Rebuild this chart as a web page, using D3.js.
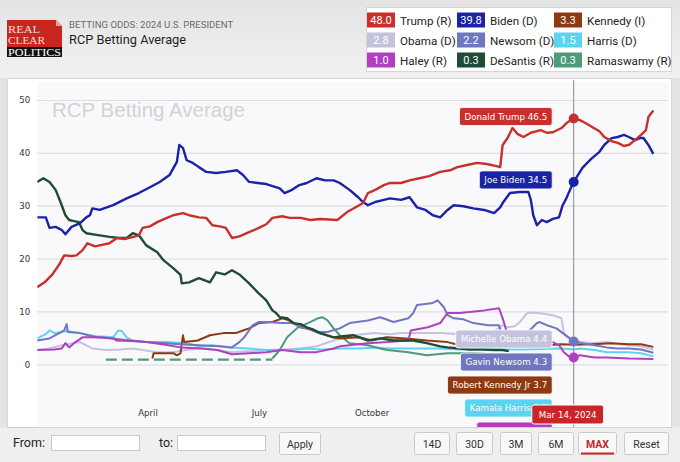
<!DOCTYPE html>
<html><head><meta charset="utf-8">
<script src="https://cdn.jsdelivr.net/npm/d3@7/dist/d3.min.js"></script>
<style>
html,body{margin:0;padding:0;width:680px;height:462px;overflow:hidden;background:#e6e6e6;}
svg{display:block;}
</style></head><body>
<svg id="c" width="680" height="462"></svg>
<script>
// ---------- DATA ----------
const trumpData = [["2023-01-01",14.6],["2023-01-07",15.5],["2023-01-13",16.9],["2023-01-19",18.9],["2023-01-23",20.6],["2023-01-29",20.5],["2023-02-02",20.6],["2023-02-07",21.6],["2023-02-11",22.9],["2023-02-17",22.3],["2023-02-21",22.5],["2023-03-01",22.9],["2023-03-07",23.9],["2023-03-13",23.7],["2023-03-19",24.0],["2023-03-25",24.4],["2023-03-28",25.8],["2023-04-03",26.1],["2023-04-09",26.9],["2023-04-15",27.5],["2023-04-22",28.2],["2023-04-30",28.6],["2023-05-05",28.2],["2023-05-13",27.8],["2023-05-19",27.7],["2023-05-24",26.3],["2023-05-30",26.1],["2023-06-04",25.8],["2023-06-09",23.9],["2023-06-15",24.2],["2023-06-23",25.0],["2023-07-01",25.8],["2023-07-07",26.5],["2023-07-12",27.7],["2023-07-20",28.0],["2023-07-26",27.7],["2023-08-04",27.7],["2023-08-12",27.3],["2023-08-20",27.5],["2023-09-03",27.3],["2023-09-11",28.8],["2023-09-18",29.7],["2023-09-24",30.5],["2023-09-28",32.4],["2023-10-04",33.0],["2023-10-11",33.9],["2023-10-16",34.3],["2023-10-25",34.3],["2023-11-01",34.8],["2023-11-09",35.2],["2023-11-17",35.6],["2023-11-26",36.4],["2023-12-04",36.7],["2023-12-10",37.3],["2023-12-18",37.7],["2023-12-26",38.1],["2024-01-03",37.9],["2024-01-11",37.5],["2024-01-14",37.3],["2024-01-16",41.5],["2024-01-20",42.8],["2024-01-24",44.7],["2024-01-28",43.6],["2024-02-02",43.0],["2024-02-08",43.8],["2024-02-16",44.3],["2024-02-21",43.8],["2024-02-26",43.9],["2024-03-04",44.7],["2024-03-09",45.8],["2024-03-14",46.5],["2024-03-19",46.2],["2024-03-24",45.6],["2024-03-29",44.9],["2024-04-04",44.1],["2024-04-08",43.0],["2024-04-14",42.2],["2024-04-19",41.9],["2024-04-24",41.3],["2024-04-28",41.5],["2024-05-03",42.4],["2024-05-08",43.4],["2024-05-12",44.3],["2024-05-14",46.8],["2024-05-18",48.0]];
const bidenData = [["2023-01-01",27.8],["2023-01-08",27.8],["2023-01-11",25.8],["2023-01-16",26.0],["2023-01-21",25.4],["2023-01-24",24.6],["2023-01-29",26.0],["2023-02-05",26.7],["2023-02-10",27.8],["2023-02-13",28.2],["2023-02-15",29.5],["2023-02-21",29.2],["2023-03-04",30.1],["2023-03-15",31.4],["2023-03-25",32.4],["2023-04-03",33.5],["2023-04-11",34.5],["2023-04-19",35.8],["2023-04-25",38.3],["2023-04-27",41.5],["2023-04-30",40.9],["2023-05-03",38.6],["2023-05-08",38.1],["2023-05-13",37.3],["2023-05-19",36.4],["2023-05-27",36.2],["2023-06-04",36.4],["2023-06-13",36.7],["2023-06-18",35.8],["2023-06-23",34.5],["2023-06-30",34.3],["2023-07-07",34.1],["2023-07-18",33.3],["2023-07-22",32.4],["2023-07-28",33.0],["2023-08-03",33.9],["2023-08-09",34.3],["2023-08-17",35.2],["2023-08-24",34.8],["2023-08-31",34.8],["2023-09-05",34.3],["2023-09-13",33.0],["2023-09-20",31.6],["2023-09-24",30.7],["2023-09-28",30.1],["2023-10-04",30.7],["2023-10-11",31.1],["2023-10-16",31.4],["2023-10-25",31.1],["2023-11-01",31.6],["2023-11-07",29.7],["2023-11-14",29.2],["2023-11-20",28.2],["2023-11-26",27.8],["2023-12-02",29.2],["2023-12-07",30.1],["2023-12-15",29.9],["2023-12-23",29.5],["2024-01-01",29.2],["2024-01-09",28.6],["2024-01-14",29.7],["2024-01-16",30.5],["2024-01-22",32.4],["2024-01-30",32.6],["2024-02-06",32.6],["2024-02-08",31.1],["2024-02-10",28.2],["2024-02-13",26.3],["2024-02-17",27.3],["2024-02-21",26.9],["2024-02-26",27.5],["2024-03-02",27.8],["2024-03-05",30.1],["2024-03-08",31.4],["2024-03-11",33.0],["2024-03-14",34.5],["2024-03-21",37.1],["2024-03-25",38.1],["2024-03-29",39.0],["2024-04-04",40.2],["2024-04-08",41.5],["2024-04-14",42.8],["2024-04-19",43.0],["2024-04-24",43.4],["2024-04-28",43.0],["2024-05-03",42.4],["2024-05-07",42.8],["2024-05-10",42.8],["2024-05-14",41.5],["2024-05-18",39.8]];
const desantisData = [["2023-01-01",34.5],["2023-01-06",35.2],["2023-01-11",34.5],["2023-01-16",33.0],["2023-01-20",30.7],["2023-01-24",28.2],["2023-01-27",27.3],["2023-01-31",27.1],["2023-02-04",26.9],["2023-02-07",25.4],["2023-02-10",24.8],["2023-02-21",24.4],["2023-03-01",24.1],["2023-03-09",23.9],["2023-03-15",23.9],["2023-03-20",24.8],["2023-03-25",24.4],["2023-03-31",22.5],["2023-04-09",21.2],["2023-04-14",19.7],["2023-04-22",18.2],["2023-04-28",16.9],["2023-04-29",15.3],["2023-05-05",15.5],["2023-05-13",16.3],["2023-05-22",15.5],["2023-05-27",17.4],["2023-06-03",17.0],["2023-06-09",17.8],["2023-06-15",17.0],["2023-06-23",15.3],["2023-06-30",13.6],["2023-07-07",12.1],["2023-07-12",10.2],["2023-07-15",9.7],["2023-07-18",8.9],["2023-07-24",8.7],["2023-07-29",7.8],["2023-08-04",7.6],["2023-08-09",7.0],["2023-08-14",6.6],["2023-08-20",5.9],["2023-08-31",5.1],["2023-09-08",5.3],["2023-09-16",5.5],["2023-09-28",4.5],["2023-10-08",4.9],["2023-10-19",4.5],["2023-11-04",4.5],["2023-11-15",4.0],["2023-11-26",3.4],["2023-12-02",3.2],["2023-12-12",3.0],["2023-12-20",2.8],["2024-01-01",2.8],["2024-01-10",2.7],["2024-01-16",2.7],["2024-01-21",2.5]];
const ramaswamyEarly = [["2023-02-26",0.9],["2023-07-12",0.9]];
const ramaswamyData = [["2023-07-12",1.1],["2023-07-18",2.7],["2023-07-24",5.1],["2023-08-02",7.0],["2023-08-10",7.8],["2023-08-18",8.7],["2023-08-22",8.9],["2023-08-26",8.3],["2023-08-31",6.8],["2023-09-05",5.5],["2023-09-13",4.0],["2023-09-28",3.6],["2023-10-08",3.0],["2023-10-14",2.7],["2023-10-31",2.3],["2023-11-15",1.7],["2023-12-02",2.1],["2023-12-12",2.1],["2023-12-25",2.1],["2024-01-06",1.9],["2024-01-14",1.7]];
const kennedyData = [["2023-04-05",1.1],["2023-04-06",2.1],["2023-04-14",2.1],["2023-04-22",2.1],["2023-04-25",1.7],["2023-04-28",2.1],["2023-04-30",5.5],["2023-05-01",4.2],["2023-05-12",4.5],["2023-05-22",5.5],["2023-06-02",5.9],["2023-06-12",5.9],["2023-06-18",6.4],["2023-06-23",6.8],["2023-07-01",7.8],["2023-07-12",8.0],["2023-07-20",8.7],["2023-07-26",8.3],["2023-08-04",7.0],["2023-08-13",6.6],["2023-08-17",6.1],["2023-08-31",5.1],["2023-09-05",4.9],["2023-09-21",5.1],["2023-10-01",4.5],["2023-10-13",5.1],["2023-10-29",4.9],["2023-11-15",4.5],["2023-12-02",4.2],["2023-12-12",3.6],["2023-12-25",3.8],["2024-01-10",3.8],["2024-02-01",3.8],["2024-02-21",3.6],["2024-03-04",3.8],["2024-03-14",3.7],["2024-03-29",3.8],["2024-04-14",4.0],["2024-04-28",3.8],["2024-05-08",3.8],["2024-05-18",3.3]];
const newsomData = [["2023-01-01",4.5],["2023-01-11",4.9],["2023-01-19",5.9],["2023-01-23",6.4],["2023-01-25",7.6],["2023-01-26",6.1],["2023-02-05",5.9],["2023-02-18",5.1],["2023-03-04",4.9],["2023-03-18",4.5],["2023-03-31",4.2],["2023-04-15",4.0],["2023-04-28",3.8],["2023-05-13",3.6],["2023-05-30",3.4],["2023-06-09",3.2],["2023-06-15",4.2],["2023-06-19",5.1],["2023-06-26",7.4],["2023-07-01",8.0],["2023-07-07",8.0],["2023-07-20",7.8],["2023-07-29",7.8],["2023-08-04",7.0],["2023-08-09",6.8],["2023-08-17",6.1],["2023-08-26",6.1],["2023-09-05",6.8],["2023-09-13",7.8],["2023-09-28",8.3],["2023-10-08",8.9],["2023-10-19",8.0],["2023-10-31",8.7],["2023-11-04",9.7],["2023-11-07",11.2],["2023-11-14",11.4],["2023-11-20",11.6],["2023-11-24",12.1],["2023-11-29",10.8],["2023-12-02",9.3],["2023-12-07",8.7],["2023-12-15",8.5],["2023-12-23",7.8],["2024-01-04",7.4],["2024-01-13",7.4],["2024-01-16",5.1],["2024-01-22",4.5],["2024-01-30",4.2],["2024-02-07",6.4],["2024-02-13",7.8],["2024-02-15",8.0],["2024-02-21",7.4],["2024-02-29",6.8],["2024-03-05",5.9],["2024-03-11",4.9],["2024-03-14",4.3],["2024-03-21",4.0],["2024-03-31",3.6],["2024-04-10",3.2],["2024-04-19",3.0],["2024-04-28",3.0],["2024-05-08",2.8],["2024-05-18",2.2]];
const obamaData = [["2023-01-01",2.7],["2023-01-11",3.0],["2023-01-21",3.6],["2023-02-05",4.2],["2023-02-10",3.6],["2023-02-15",3.0],["2023-02-26",2.7],["2023-03-09",2.8],["2023-03-20",3.0],["2023-04-09",2.3],["2023-04-22",2.3],["2023-05-03",2.7],["2023-05-13",3.0],["2023-05-27",2.7],["2023-06-09",2.3],["2023-06-23",2.5],["2023-07-07",2.7],["2023-07-20",2.8],["2023-08-04",3.0],["2023-08-17",3.4],["2023-08-31",4.5],["2023-09-08",5.1],["2023-09-16",5.5],["2023-10-03",5.9],["2023-10-16",5.7],["2023-10-25",5.9],["2023-11-09",5.9],["2023-11-26",5.9],["2023-12-12",5.7],["2023-12-29",5.9],["2024-01-10",6.4],["2024-01-16",7.4],["2024-01-20",7.0],["2024-01-26",7.2],["2024-01-30",8.0],["2024-02-05",9.7],["2024-02-10",9.8],["2024-02-20",9.5],["2024-02-26",9.3],["2024-03-04",8.7],["2024-03-06",5.9],["2024-03-09",5.1],["2024-03-14",4.4],["2024-03-28",4.0],["2024-04-10",4.2],["2024-04-19",3.8],["2024-04-28",3.6],["2024-05-08",3.4],["2024-05-18",2.8]];
const harrisData = [["2023-01-01",4.9],["2023-01-08",5.7],["2023-01-11",6.4],["2023-01-12",6.3],["2023-01-15",5.9],["2023-01-25",6.3],["2023-02-05",5.9],["2023-02-18",5.3],["2023-03-04",5.1],["2023-03-08",6.4],["2023-03-11",6.3],["2023-03-15",5.1],["2023-03-20",4.5],["2023-03-31",4.2],["2023-04-17",4.2],["2023-05-03",4.0],["2023-05-13",3.4],["2023-05-24",3.6],["2023-06-07",3.2],["2023-06-23",3.0],["2023-07-07",2.7],["2023-07-26",2.7],["2023-08-09",3.0],["2023-08-20",2.8],["2023-09-05",3.0],["2023-09-21",3.0],["2023-10-03",3.2],["2023-10-16",3.0],["2023-10-31",3.0],["2023-11-26",3.0],["2023-12-12",2.8],["2024-01-01",3.0],["2024-01-30",2.8],["2024-03-04",3.0],["2024-03-14",2.8],["2024-03-19",3.0],["2024-03-31",2.7],["2024-04-10",2.3],["2024-04-28",2.3],["2024-05-08",2.1],["2024-05-18",1.5]];
const haleyData = [["2023-01-01",2.7],["2023-01-15",2.8],["2023-01-21",3.0],["2023-01-24",4.0],["2023-01-27",3.2],["2023-01-31",4.0],["2023-02-07",5.1],["2023-02-10",5.1],["2023-02-21",5.1],["2023-03-04",4.9],["2023-03-07",4.5],["2023-03-18",4.4],["2023-03-31",4.2],["2023-04-13",3.8],["2023-04-28",3.2],["2023-05-16",3.0],["2023-05-28",2.7],["2023-06-09",1.9],["2023-06-23",2.1],["2023-07-07",2.3],["2023-07-20",2.7],["2023-08-04",2.3],["2023-08-17",2.3],["2023-08-31",3.0],["2023-09-05",3.4],["2023-09-28",4.0],["2023-10-14",4.2],["2023-10-25",4.4],["2023-10-31",4.5],["2023-11-02",6.4],["2023-11-16",7.0],["2023-11-26",7.8],["2023-12-02",9.7],["2023-12-12",9.7],["2024-01-01",10.2],["2024-01-13",10.6],["2024-01-16",8.7],["2024-01-19",6.4],["2024-01-27",5.3],["2024-02-07",4.9],["2024-02-26",4.2],["2024-03-02",3.6],["2024-03-06",2.3],["2024-03-10",1.5],["2024-03-14",1.3],["2024-03-19",1.7],["2024-03-31",1.3],["2024-04-10",1.3],["2024-04-28",1.1],["2024-05-18",1.0]];

const legendNames = ["Trump (R)","Biden (D)","Kennedy (I)","Obama (D)","Newsom (D)","Harris (D)","Haley (R)","DeSantis (R)","Ramaswamy (R)"];
const legendValues = ["48.0","39.8","3.3","2.8","2.2","1.5","1.0","0.3","0.3"];
const yTickValues = [0,10,20,30,40,50];
const xTickDates = ["2023-04-01","2023-07-01","2023-10-01"];
const xTickLabels = ["April","July","October"];
const hoverDate = "2024-03-14";
const hoverLabel = "Mar 14, 2024";
const tipNames = ["Donald Trump","Joe Biden","Michelle Obama","Gavin Newsom","Robert Kennedy Jr","Kamala Harris","Nikki Haley"];
const tipValues = [46.5,34.5,4.4,4.3,3.7,2.8,1.3];
const buttonLabels = ["14D","30D","3M","6M","MAX","Reset"];

// ---------- STYLE ----------
const C = {trump:"#c9302c", biden:"#1a22a6", kennedy:"#8b3a12", obama:"#c4c3de", newsom:"#7077c2",
           harris:"#5ad4f0", haley:"#b040bf", desantis:"#1f4b37", rama:"#4d9b78"};
const legendColors = [C.trump,C.biden,C.kennedy,C.obama,C.newsom,C.harris,C.haley,C.desantis,C.rama];
const tipColors = [C.trump,C.biden,C.obama,C.newsom,C.kennedy,C.harris,C.haley];

const parse = d3.timeParse("%Y-%m-%d");
const svg = d3.select("#c");
const defs = svg.append("defs");
const g1 = defs.append("linearGradient").attr("id","hdr").attr("x1",0).attr("y1",0).attr("x2",0).attr("y2",1);
g1.append("stop").attr("offset","0%").attr("stop-color","#e4e4e4");
g1.append("stop").attr("offset","100%").attr("stop-color","#f1f1f1");

// page background / header
svg.append("rect").attr("x",0).attr("y",0).attr("width",680).attr("height",78).attr("fill","url(#hdr)");
svg.append("rect").attr("x",0).attr("y",78).attr("width",680).attr("height",384).attr("fill","#e4e4e4");

// logo
const logo = svg.append("g");
logo.append("path").attr("d","M7,20 H56 L62,26 V47 H7 Z").attr("fill","#c8261f");
logo.append("path").attr("d","M56,20 L62,26 H56 Z").attr("fill","#e6a19c");
logo.append("rect").attr("x",7).attr("y",47).attr("width",55).attr("height",10).attr("fill","#111");
const serif = "Liberation Serif, serif";
logo.append("text").attr("x",8).attr("y",32.5).text("REAL").attr("font-family",serif).attr("font-size",10)
  .attr("textLength",32).attr("lengthAdjust","spacingAndGlyphs").attr("fill","#f6dcdc");
logo.append("text").attr("x",8).attr("y",44).text("CLEAR").attr("font-family",serif).attr("font-size",10)
  .attr("textLength",37).attr("lengthAdjust","spacingAndGlyphs").attr("fill","#f6dcdc");
logo.append("text").attr("x",8).attr("y",55.5).text("POLITICS").attr("font-family",serif).attr("font-size",10)
  .attr("textLength",53).attr("lengthAdjust","spacingAndGlyphs").attr("fill","#fff");

svg.append("text").attr("x",69).attr("y",28).text("BETTING ODDS: 2024 U.S. PRESIDENT")
  .attr("font-family","Roboto, sans-serif").attr("font-size",9.6).attr("fill","#6a6a6a");
svg.append("text").attr("x",69).attr("y",44).text("RCP Betting Average")
  .attr("font-family","Roboto, sans-serif").attr("font-size",12.8).attr("fill","#1e1e1e");

// legend
svg.append("rect").attr("x",366.5).attr("y",7.5).attr("width",305).attr("height",64).attr("fill","#fff").attr("stroke","#d6d6d6");
const colX = [367,457,554], rowY = [20,40,60];
legendNames.forEach((n,i)=>{
  const cx = colX[i%3], cy = rowY[Math.floor(i/3)];
  svg.append("rect").attr("x",cx).attr("y",cy-7.5).attr("width",28).attr("height",15).attr("fill",legendColors[i]);
  svg.append("text").attr("x",cx+14).attr("y",cy+4).attr("text-anchor","middle").text(legendValues[i])
    .attr("font-family","Roboto, sans-serif").attr("font-size",11).attr("fill","#fff");
  svg.append("text").attr("x",cx+33).attr("y",cy+4.5).text(n)
    .attr("font-family","Roboto, sans-serif").attr("font-size",11.6).attr("fill","#222");
});

// chart panel
svg.append("rect").attr("x",7.5).attr("y",78.5).attr("width",664).attr("height",350).attr("fill","#fff").attr("stroke","#d9d9d9");
const L = 37.25, R = 668, T = 82, B = 426;
svg.append("rect").attr("x",L).attr("y",T).attr("width",R-L).attr("height",B-T).attr("fill","#f9f9fc");

const x = d3.scaleTime().domain([parse("2023-01-01"), parse("2024-05-30")]).range([L, R]);
const y = d3.scaleLinear().domain([0,50]).range([364.3,100]);

// y grid + labels
const yAxis = d3.axisLeft(y).tickValues(yTickValues).tickSize(-(R-L)).tickPadding(7);
const ya = svg.append("g").attr("transform",`translate(${L},0)`).call(yAxis);
ya.select(".domain").remove();
ya.selectAll(".tick line").attr("stroke","#dedede").attr("stroke-width",1.2);
ya.selectAll(".tick text").attr("font-family","DejaVu Sans, sans-serif").attr("font-size",8.6).attr("fill","#333");

// x labels
const xAxis = d3.axisBottom(x).tickValues(xTickDates.map(parse)).tickFormat((d,i)=>xTickLabels[i]).tickSize(0);
const xa = svg.append("g").attr("transform",`translate(0,407)`).call(xAxis);
xa.select(".domain").remove();
xa.selectAll(".tick text").attr("font-family","DejaVu Sans, sans-serif").attr("font-size",8.6).attr("fill","#333");

// watermark
svg.append("text").attr("x",52).attr("y",116.5).text("RCP Betting Average")
  .attr("font-family","Liberation Sans, Arial, sans-serif").attr("font-size",20.5).attr("fill","#d2d2d4");

// lines
defs.append("clipPath").attr("id","plot").append("rect").attr("x",L).attr("y",T).attr("width",R-L).attr("height",B-T);
const lines = svg.append("g").attr("clip-path","url(#plot)");
const line = d3.line().x(d=>x(parse(d[0]))).y(d=>y(d[1]));
const seriesList = [
  {d:obamaData, c:C.obama, w:2},
  {d:harrisData, c:C.harris, w:2},
  {d:ramaswamyEarly, c:C.rama, w:2.2, dash:"11,5"},
  {d:ramaswamyData, c:C.rama, w:2},
  {d:kennedyData, c:C.kennedy, w:2},
  {d:newsomData, c:C.newsom, w:2},
  {d:haleyData, c:C.haley, w:2},
  {d:desantisData, c:C.desantis, w:2.4},
  {d:bidenData, c:C.biden, w:2.4},
  {d:trumpData, c:C.trump, w:2.4}
];
seriesList.forEach(s=>{
  lines.append("path").attr("d",line(s.d)).attr("fill","none").attr("stroke",s.c)
    .attr("stroke-width",s.w).attr("stroke-linejoin","round").attr("stroke-dasharray",s.dash||null);
});

// crosshair
const hx = x(parse(hoverDate));
svg.append("line").attr("x1",hx).attr("x2",hx).attr("y1",80).attr("y2",428).attr("stroke","#8a8a8a").attr("stroke-width",1);

// hover dots
[[trumpData,C.trump],[bidenData,C.biden],[newsomData,C.newsom],[haleyData,C.haley]].forEach(([d,c])=>{
  const p = d.find(v=>v[0]===hoverDate);
  svg.append("circle").attr("cx",hx).attr("cy",y(p[1])).attr("r",5).attr("fill",c);
});

// tooltips (stacked to avoid overlap)
const tipG = svg.append("g");
let prevBottom = -Infinity;
const tipRight = hx - 21.5, th = 18;
tipNames.forEach((n,i)=>{
  let cy = y(tipValues[i]) - 2;
  let top = Math.max(cy - th/2, prevBottom + 5);
  prevBottom = top + th;
  const g = tipG.append("g");
  const t = g.append("text").attr("y",top+th/2+3.2).text(n+" "+tipValues[i].toFixed(1))
    .attr("font-family","DejaVu Sans, sans-serif").attr("font-size",8.7).attr("fill","#fff");
  const w = t.node().getComputedTextLength();
  const bw = w + 10;
  g.insert("rect","text").attr("x",tipRight-bw).attr("y",top).attr("width",bw).attr("height",th)
    .attr("rx",2.5).attr("fill",tipColors[i]).attr("stroke","#fff").attr("stroke-width",0.8);
  t.attr("x",tipRight-bw+5);
});

// date label
const dt = svg.append("g");
const dtt = dt.append("text").attr("y",418).text(hoverLabel).attr("font-family","DejaVu Sans, sans-serif").attr("font-size",8.7).attr("fill","#fff");
const dw = dtt.node().getComputedTextLength()+14;
dt.insert("rect","text").attr("x",hx-6-dw/2).attr("y",405).attr("width",dw).attr("height",19).attr("rx",2.5).attr("fill","#c9262a").attr("stroke","#fff").attr("stroke-width",1);
dtt.attr("x",hx-6-dw/2+7);

// bottom bar
svg.append("rect").attr("x",0).attr("y",427.5).attr("width",680).attr("height",35).attr("fill","#efefef");
svg.append("line").attr("x1",7).attr("x2",672).attr("y1",427.5).attr("y2",427.5).attr("stroke","#d2d2d2");
const bf = "Roboto, sans-serif";
svg.append("text").attr("x",13).attr("y",447).text("From:").attr("font-family",bf).attr("font-size",12.5).attr("fill","#222");
svg.append("rect").attr("x",51.5).attr("y",435.5).attr("width",88).attr("height",15).attr("fill","#fff").attr("stroke","#c8c8c8");
svg.append("text").attr("x",159).attr("y",447).text("to:").attr("font-family",bf).attr("font-size",12.5).attr("fill","#222");
svg.append("rect").attr("x",177.5).attr("y",435.5).attr("width",88).attr("height",15).attr("fill","#fff").attr("stroke","#c8c8c8");
function button(x0,x1,label,active){
  svg.append("rect").attr("x",x0+0.5).attr("y",432.5).attr("width",x1-x0).attr("height",22).attr("rx",2)
    .attr("fill","#f8f8f8").attr("stroke","#cacaca");
  svg.append("text").attr("x",(x0+x1)/2+0.5).attr("y",447.5).attr("text-anchor","middle").text(label)
    .attr("font-family",bf).attr("font-size",10.5).attr("font-weight",active?"bold":null).attr("fill",active?"#c62828":"#333");
  if(active) svg.append("rect").attr("x",x0+3).attr("y",452.5).attr("width",x1-x0-5).attr("height",2).attr("fill","#c62828");
}
button(279,320,"Apply",false);
const bx = [[414,449],[456,492],[500,531],[538,573],[578,616],[624,668]];
buttonLabels.forEach((b,i)=>button(bx[i][0],bx[i][1],b,b==="MAX"));
</script>
</body></html>
